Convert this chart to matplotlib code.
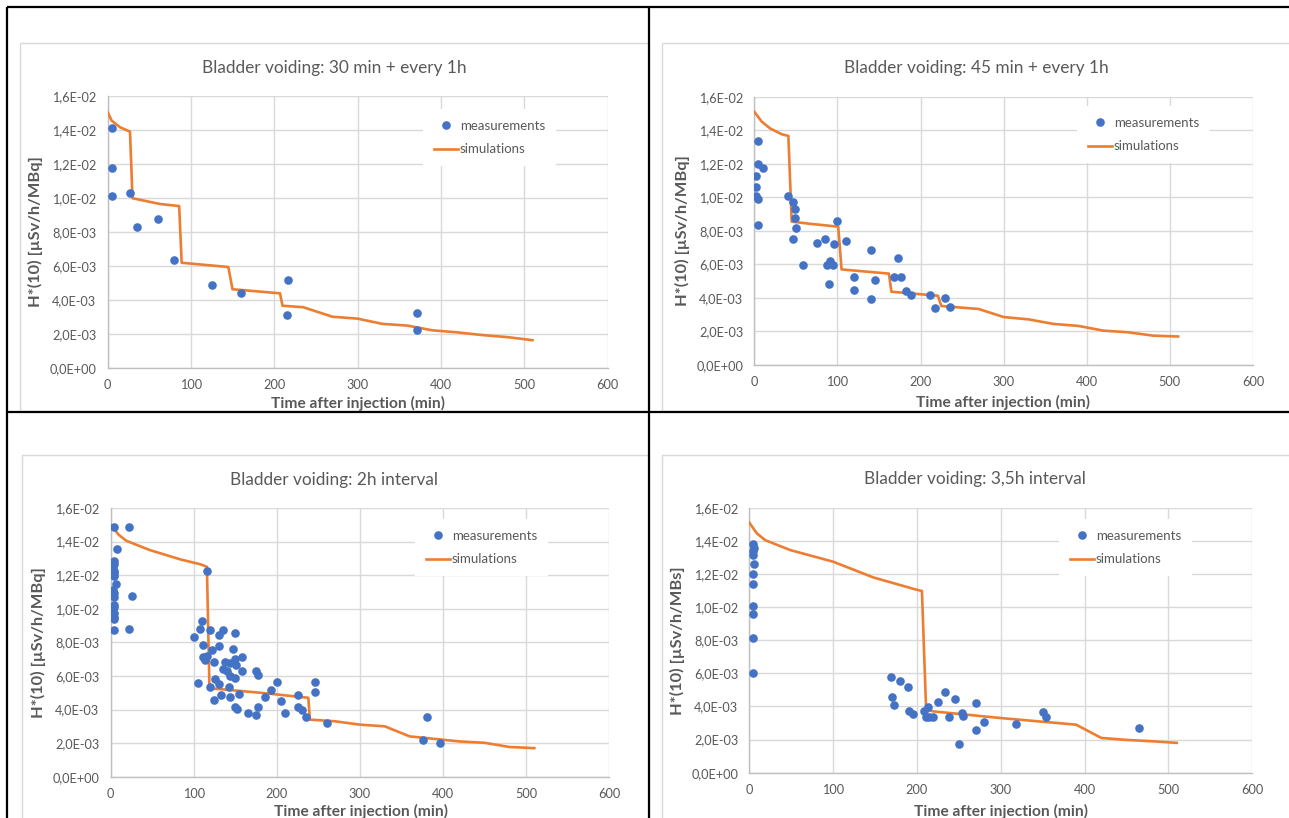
import matplotlib
matplotlib.use("Agg")
import matplotlib.pyplot as plt
from matplotlib.patches import Rectangle

plt.rcParams["font.family"] = ["Lato", "DejaVu Sans"]

W, H = 1289, 818
BLUE = "#4472C4"
ORANGE = "#ED7D31"
TXT = "#595959"
GRID = "#D9D9D9"

# ── Data ──────────────────────────────────────────────────────────────────────
x_ticks = [0, 100, 200, 300, 400, 500, 600]
y_ticks = [0.0, 0.002, 0.004, 0.006, 0.008, 0.010, 0.012, 0.014, 0.016]
y_tick_labels = ["0,0E+00", "2,0E-03", "4,0E-03", "6,0E-03", "8,0E-03",
                 "1,0E-02", "1,2E-02", "1,4E-02", "1,6E-02"]

titles = ["Bladder voiding: 30 min + every 1h",
          "Bladder voiding: 45 min + every 1h",
          "Bladder voiding: 2h interval",
          "Bladder voiding: 3,5h interval"]
x_label = "Time after injection (min)"
y_labels = ["H*(10) [µSv/h/MBq]", "H*(10) [µSv/h/MBq]",
            "H*(10) [µSv/h/MBq]", "H*(10) [µSv/h/MBs]"]

# panel 1: 30 min + every 1h
meas1_t = [5, 5, 5, 27, 35, 60, 80, 125, 160, 217, 215, 371, 371]
meas1_y = [0.01412, 0.01178, 0.01009, 0.01027, 0.0083, 0.00877, 0.00632,
           0.00485, 0.0044, 0.00516, 0.0031, 0.00324, 0.0022]
sim1_t = [0, 5, 15, 27, 30, 63, 86, 89, 145, 150, 207, 210, 235, 270, 300,
          330, 360, 390, 420, 450, 480, 510]
sim1_y = [0.01506, 0.01455, 0.01416, 0.0139, 0.00998, 0.00964, 0.00952,
          0.00618, 0.00593, 0.00462, 0.00438, 0.00365, 0.00356, 0.0030,
          0.00289, 0.00258, 0.00248, 0.00220, 0.00208, 0.00192, 0.00180,
          0.00162]

# panel 2: 45 min + every 1h
meas2_t = [4, 4, 10, 2, 2, 2, 5, 5, 40, 47, 49, 49, 50, 47, 59, 75, 85, 96,
           99, 110, 88, 91, 95, 90, 120, 120, 140, 145, 140, 173, 168, 176,
           182, 189, 211, 230, 218, 236]
meas2_y = [0.01338, 0.01199, 0.01175, 0.01127, 0.01061, 0.01008, 0.00992,
           0.00835, 0.01008, 0.00974, 0.0093, 0.00879, 0.00819, 0.0075,
           0.00594, 0.00726, 0.00753, 0.00722, 0.00859, 0.0074, 0.00598,
           0.00622, 0.00594, 0.00485, 0.00527, 0.00449, 0.00688, 0.00505,
           0.00396, 0.00638, 0.00527, 0.00527, 0.00441, 0.00417, 0.00417,
           0.0040, 0.0034, 0.00348]
sim2_t = [0, 9, 19, 33, 41, 45, 69, 101, 105, 162, 165, 221, 225, 270, 300,
          330, 360, 390, 420, 450, 480, 510]
sim2_y = [0.0151, 0.01451, 0.01411, 0.01376, 0.01366, 0.00855, 0.00841,
          0.00825, 0.0057, 0.00545, 0.00437, 0.00413, 0.00352, 0.00334,
          0.00286, 0.00272, 0.00245, 0.00233, 0.00205, 0.00195, 0.00175,
          0.0017]

# panel 3: 2h interval
meas3_t = [4, 22, 8, 4, 4, 3, 4, 4, 4, 7, 3, 4, 4, 26, 4, 4, 4, 4, 4, 4, 22,
           116, 110, 108, 120, 135, 131, 150, 100, 111, 130, 122, 148, 111,
           116, 114, 125, 138, 144, 150, 158, 151, 135, 140, 144, 150, 158,
           175, 178, 105, 126, 120, 130, 142, 125, 133, 144, 155, 150, 152,
           165, 175, 178, 186, 193, 200, 205, 210, 226, 226, 230, 235, 246,
           246, 260, 376, 381, 396]
meas3_y = [0.01489, 0.01489, 0.01356, 0.01284, 0.01267, 0.01251, 0.01227,
           0.01211, 0.01195, 0.01147, 0.01112, 0.01096, 0.01068, 0.01078,
           0.01022, 0.01009, 0.00973, 0.00953, 0.00937, 0.00874, 0.00881,
           0.01227, 0.00929, 0.00879, 0.00871, 0.00871, 0.00842, 0.00853,
           0.0083, 0.00784, 0.00776, 0.00754, 0.00762, 0.00713, 0.00717,
           0.00693, 0.00681, 0.00681, 0.00677, 0.00701, 0.00713, 0.00667,
           0.00644, 0.0063, 0.00602, 0.0059, 0.00628, 0.00632, 0.00606,
           0.00558, 0.00582, 0.00535, 0.0055, 0.00533, 0.00455, 0.00489,
           0.00475, 0.00493, 0.00414, 0.00405, 0.0038, 0.00368, 0.00414,
           0.00477, 0.00519, 0.00566, 0.00448, 0.0038, 0.00487, 0.00416,
           0.00396, 0.00356, 0.00566, 0.00505, 0.00317, 0.00218, 0.00357,
           0.00199]
sim3_t = [0, 10, 19, 47, 84, 108, 116, 119, 124, 180, 238, 240, 270, 300,
          330, 360, 390, 420, 450, 480, 510]
sim3_y = [0.0150, 0.0144, 0.01405, 0.0135, 0.01294, 0.01265, 0.0125,
          0.00546, 0.00525, 0.0050, 0.0047, 0.0034, 0.0033, 0.0031, 0.0030,
          0.0024, 0.00225, 0.0021, 0.00202, 0.00177, 0.0017]

# panel 4: 3,5h interval
meas4_t = [5, 6, 5, 5, 6, 5, 5, 5, 5, 5, 5, 169, 180, 189, 170, 173, 190,
           195, 209, 213, 211, 215, 219, 225, 234, 238, 246, 250, 254, 255,
           270, 270, 280, 318, 350, 354, 465]
meas4_y = [0.01378, 0.01358, 0.01338, 0.01312, 0.01258, 0.01199, 0.01137,
           0.01008, 0.00956, 0.00813, 0.0060, 0.0058, 0.00553, 0.00515,
           0.00455, 0.0041, 0.0037, 0.00356, 0.0037, 0.00394, 0.00338,
           0.00334, 0.00338, 0.00425, 0.00487, 0.00334, 0.00447, 0.00171,
           0.00362, 0.00342, 0.00419, 0.00258, 0.00304, 0.00294, 0.00366,
           0.00336, 0.00271]
sim4_t = [0, 9, 19, 49, 100, 148, 198, 206, 211, 220, 300, 390, 420, 450,
          480, 510]
sim4_y = [0.0151, 0.01445, 0.01404, 0.01344, 0.01274, 0.01179, 0.01107,
          0.01097, 0.0038, 0.0037, 0.0033, 0.0029, 0.0021, 0.00198, 0.0019,
          0.0018]

meas_t = [meas1_t, meas2_t, meas3_t, meas4_t]
meas_y = [meas1_y, meas2_y, meas3_y, meas4_y]
sim_t = [sim1_t, sim2_t, sim3_t, sim4_t]
sim_y = [sim1_y, sim2_y, sim3_y, sim4_y]

# ── Layout (pixels) ───────────────────────────────────────────────────────────
plot_boxes = [(107.5, 96.0, 607.5, 367.7), (754.3, 96.7, 1252.9, 365.0),
              (110.5, 508.0, 609.1, 776.7), (749.3, 507.7, 1252.1, 772.7)]
chart_boxes = [(20, 43, 649, 411), (662, 43, 1292, 411),
               (22, 455, 649, 822), (662, 455, 1292, 822)]
title_pos = [(334, 68), (976, 68), (334, 480), (975, 479)]
xlabel_pos = [(358, 403), (1003, 402), (361, 811), (1001, 811)]
ylabel_pos = [(35, 232), (682, 231), (38, 643), (677, 641)]
legend_pos = [(434, 125), (1088, 122), (426, 535), (1070, 535)]

fig = plt.figure(figsize=(W / 100, H / 100), dpi=100)
fig.patch.set_facecolor("white")

bg = fig.add_axes([0, 0, 1, 1])
bg.set_xlim(0, W)
bg.set_ylim(H, 0)
bg.axis("off")

for x0, y0, x1, y1 in chart_boxes:
    bg.add_patch(Rectangle((x0, y0), x1 - x0, y1 - y0, facecolor="white",
                           edgecolor=GRID, lw=1.0))

# table cell borders
bg.plot([7, W], [7, 7], color="black", lw=1.6, solid_capstyle="butt")
bg.plot([7, W], [412, 412], color="black", lw=1.6, solid_capstyle="butt")
bg.plot([7, 7], [7, H], color="black", lw=1.6, solid_capstyle="butt")
bg.plot([649, 649], [7, H], color="black", lw=1.6, solid_capstyle="butt")

for i in range(4):
    x0, y0, x1, y1 = plot_boxes[i]
    ax = fig.add_axes([x0 / W, 1 - y1 / H, (x1 - x0) / W, (y1 - y0) / H])
    ax.set_facecolor("none")

    ax.plot(sim_t[i], sim_y[i], color=ORANGE, lw=1.9, label="simulations",
            zorder=3)
    ax.plot(meas_t[i], meas_y[i], "o", color=BLUE, ms=6.2, mew=0,
            label="measurements", zorder=4)

    ax.set_xlim(0, 600)
    ax.set_ylim(0, 0.016)
    ax.set_xticks(x_ticks)
    ax.set_xticklabels([str(v) for v in x_ticks])
    ax.set_yticks(y_ticks)
    ax.set_yticklabels(y_tick_labels)
    ax.tick_params(length=0, labelsize=9.2, labelcolor=TXT, pad=8)
    ax.grid(True, color=GRID, lw=1.0)
    ax.set_axisbelow(True)
    for s in ["top", "right"]:
        ax.spines[s].set_visible(False)
    for s in ["left", "bottom"]:
        ax.spines[s].set_color("#BFBFBF")
        ax.spines[s].set_linewidth(1.0)

    ax.set_xlabel(x_label, fontsize=11.2, fontweight="bold", color=TXT,
                  va="center")
    ax.xaxis.set_label_coords(*xlabel_pos[i], transform=bg.transData)
    ax.set_ylabel(y_labels[i], fontsize=11.8, fontweight="bold", color=TXT,
                  va="center")
    ax.yaxis.set_label_coords(*ylabel_pos[i], transform=bg.transData)

    bg.text(*title_pos[i], titles[i], fontsize=12.4, color=TXT,
            ha="center", va="center")

    handles, labels = ax.get_legend_handles_labels()
    hx, hy = legend_pos[i]
    leg = ax.legend(handles[::-1], labels[::-1], loc="upper left",
                    bbox_to_anchor=(hx - 11, hy - 16),
                    bbox_transform=bg.transData, fontsize=9.5, labelcolor=TXT,
                    frameon=True, facecolor="white", edgecolor="none",
                    framealpha=1.0, fancybox=False, borderpad=0.84,
                    borderaxespad=0, handlelength=1.8, handletextpad=0.15,
                    labelspacing=0.85)
    leg.set_zorder(5)

fig.savefig("out.png", dpi=100, facecolor="white")
